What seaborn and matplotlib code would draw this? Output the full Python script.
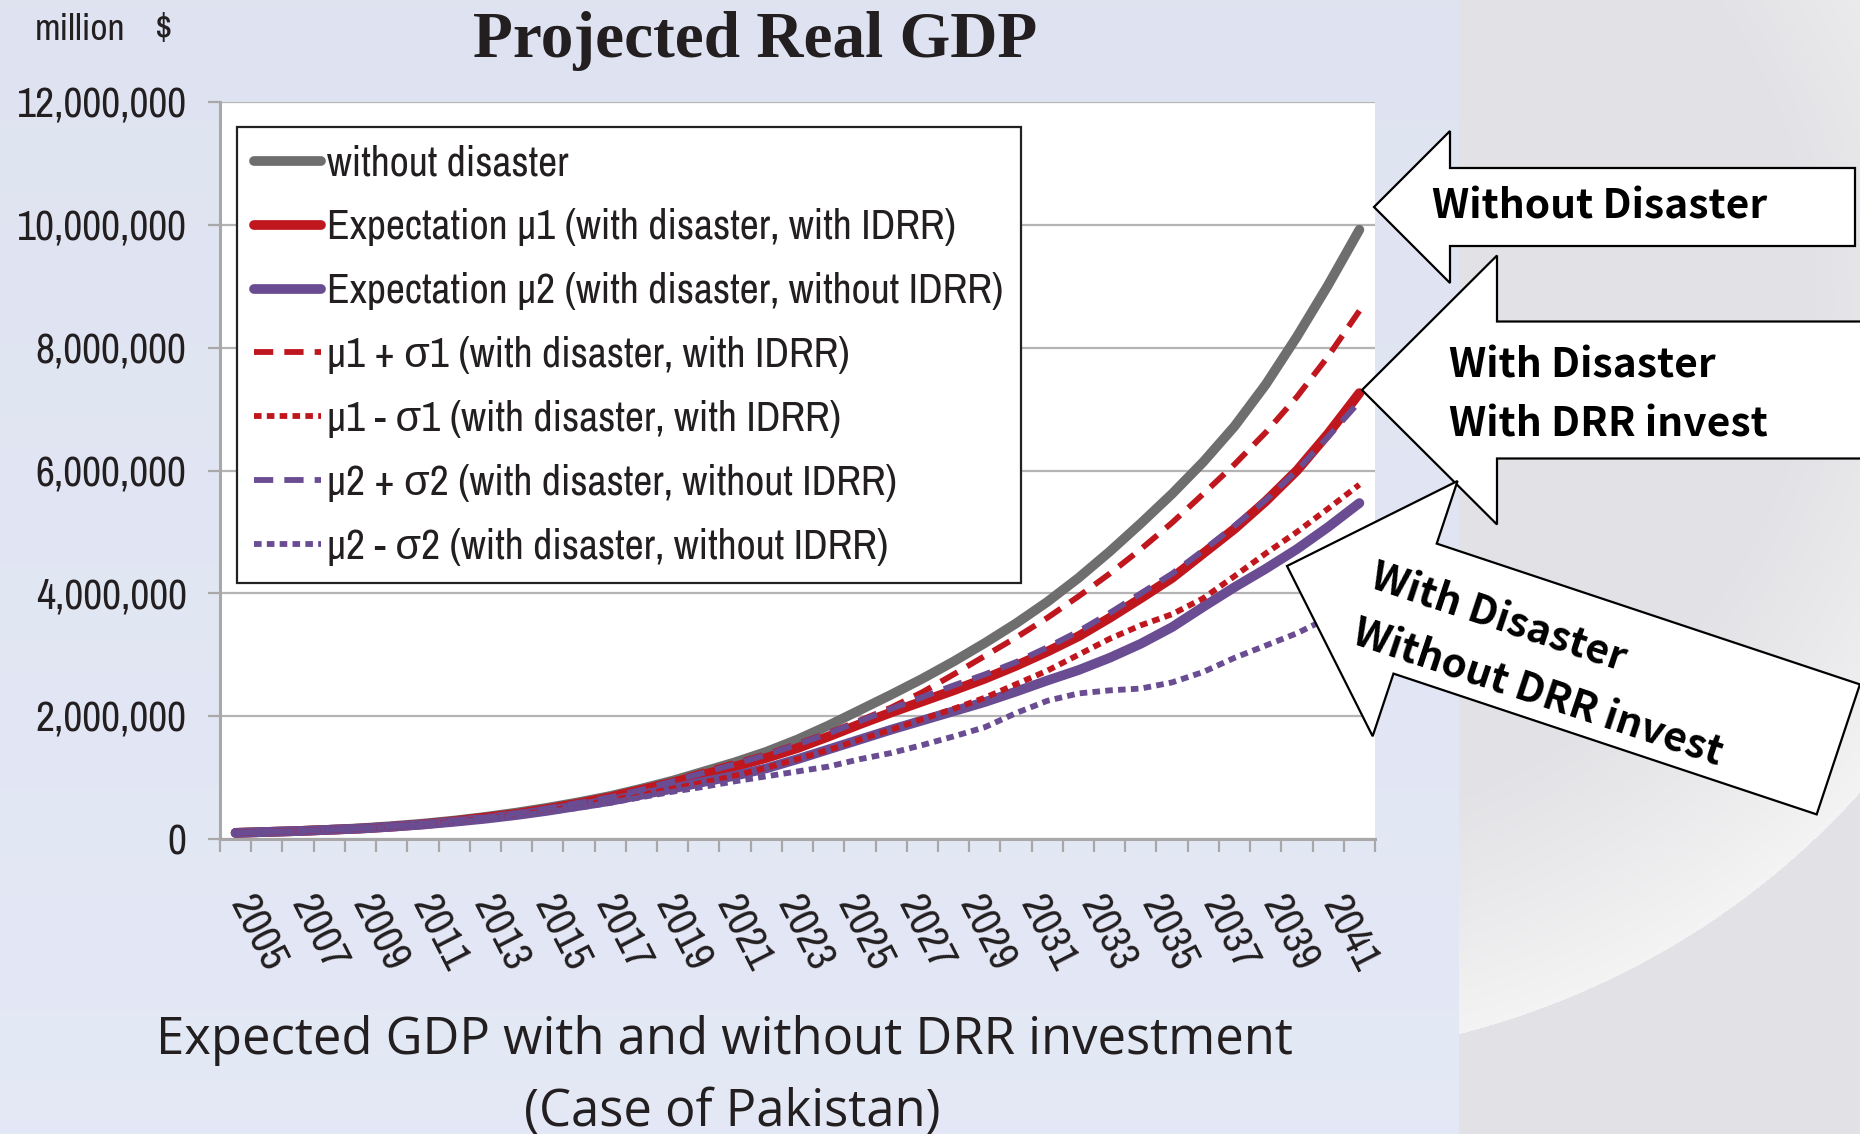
import numpy as np
import pandas as pd
import matplotlib
matplotlib.use('Agg')
import matplotlib.pyplot as plt
import matplotlib.transforms as mtransforms
from matplotlib.patches import Polygon
from matplotlib.ticker import FuncFormatter, FixedLocator
import seaborn as sns

# ---- data (GDP in units of 1,000,000 million $) ----
years = list(range(2005, 2042))
without_disaster = [0.10, 0.115, 0.13, 0.15, 0.175, 0.21, 0.25, 0.30, 0.36, 0.43, 0.51, 0.60, 0.70, 0.82, 0.95,
                    1.10, 1.25, 1.42, 1.62, 1.85, 2.10, 2.35, 2.61, 2.89, 3.19, 3.51, 3.86, 4.25, 4.68, 5.14,
                    5.62, 6.14, 6.72, 7.40, 8.18, 9.02, 9.92]
mu1 = [0.10, 0.115, 0.13, 0.15, 0.17, 0.20, 0.24, 0.29, 0.35, 0.41, 0.49, 0.58, 0.68, 0.80, 0.92,
       1.05, 1.18, 1.32, 1.48, 1.67, 1.87, 2.06, 2.24, 2.42, 2.61, 2.82, 3.05, 3.30, 3.60, 3.92,
       4.25, 4.65, 5.05, 5.50, 6.00, 6.60, 7.26]
mu2 = [0.10, 0.115, 0.13, 0.15, 0.17, 0.20, 0.235, 0.28, 0.33, 0.39, 0.46, 0.54, 0.62, 0.72, 0.82,
       0.93, 1.03, 1.15, 1.30, 1.46, 1.62, 1.78, 1.93, 2.08, 2.23, 2.40, 2.58, 2.75, 2.95, 3.18,
       3.45, 3.78, 4.10, 4.40, 4.72, 5.08, 5.47]
mu1_plus = [0.10, 0.115, 0.13, 0.15, 0.175, 0.21, 0.25, 0.30, 0.36, 0.42, 0.50, 0.59, 0.69, 0.82, 0.95,
            1.10, 1.24, 1.38, 1.55, 1.73, 1.93, 2.14, 2.39, 2.68, 2.98, 3.28, 3.60, 3.95, 4.32, 4.72,
            5.15, 5.62, 6.10, 6.62, 7.20, 7.86, 8.60]
mu1_minus = [0.10, 0.115, 0.13, 0.15, 0.17, 0.20, 0.235, 0.28, 0.33, 0.39, 0.46, 0.54, 0.63, 0.72, 0.82,
             0.92, 1.03, 1.16, 1.30, 1.45, 1.62, 1.78, 1.95, 2.12, 2.30, 2.52, 2.74, 3.00, 3.26, 3.48,
             3.66, 3.92, 4.28, 4.65, 5.00, 5.38, 5.77]
mu2_plus = [0.10, 0.115, 0.13, 0.15, 0.175, 0.21, 0.25, 0.30, 0.35, 0.42, 0.50, 0.59, 0.68, 0.80, 0.94,
            1.08, 1.22, 1.37, 1.54, 1.72, 1.92, 2.12, 2.31, 2.50, 2.68, 2.88, 3.12, 3.38, 3.68, 4.00,
            4.32, 4.70, 5.10, 5.52, 6.00, 6.55, 7.12]
mu2_minus = [0.10, 0.115, 0.13, 0.15, 0.17, 0.20, 0.23, 0.27, 0.32, 0.38, 0.44, 0.51, 0.59, 0.68, 0.77,
             0.85, 0.94, 1.02, 1.10, 1.18, 1.30, 1.40, 1.53, 1.67, 1.82, 2.05, 2.25, 2.37, 2.42, 2.45,
             2.55, 2.72, 2.95, 3.15, 3.35, 3.60, 3.90]

labels = ['without disaster',
          'Expectation μ1 (with disaster, with IDRR)',
          'Expectation μ2 (with disaster, without IDRR)',
          'μ1 + σ1 (with disaster, with IDRR)',
          'μ1 - σ1 (with disaster, with IDRR)',
          'μ2 + σ2 (with disaster, without IDRR)',
          'μ2 - σ2 (with disaster, without IDRR)']
y_ticks = [0, 2, 4, 6, 8, 10, 12]

GRAY, RED, PURPLE = '#6e6e6e', '#c0171f', '#6a4c93'
series = [
    (without_disaster, GRAY, 7.0, '-'),
    (mu1, RED, 7.0, '-'),
    (mu2, PURPLE, 7.0, '-'),
    (mu1_plus, RED, 4.2, (0, (3.3, 1.9))),
    (mu1_minus, RED, 4.2, (0, (1.3, 0.9))),
    (mu2_plus, PURPLE, 4.2, (0, (3.3, 1.9))),
    (mu2_minus, PURPLE, 4.2, (0, (1.3, 0.9))),
]

sns.set_style('white')
plt.rcParams['font.family'] = ['Archivo Narrow', 'Liberation Sans', 'DejaVu Sans']
TXT = '#231f20'

W, H = 1860, 1134
fig = plt.figure(figsize=(W / 100, H / 100), dpi=100)
px = mtransforms.Affine2D().scale(1 / W, -1 / H).translate(0, 1) + fig.transFigure

# background: lavender panel on the left, grey panel with a light swoosh on the right
yy, xx = np.mgrid[0:H, 0:W]
bg = np.zeros((H, W, 3))
bg[:] = [0.875, 0.892, 0.945]
bg += ((yy / H) * 0.02)[..., None]
r = ((xx - 1250) / 800.0) ** 2 + ((yy - 300) / 760.0) ** 2
glow = np.clip((r - 0.5) / 0.5, 0, 1) * (r < 1)
right = np.array([0.89, 0.89, 0.905])
rightcol = right + (0.955 - right) * glow[..., None]
bg = np.where((xx >= 1459)[..., None], rightcol, bg)
fig.figimage(np.clip(bg, 0, 1), 0, 0, origin='upper', zorder=-5)

ax = fig.add_axes([220 / W, 1 - 839 / H, 1155 / W, 737 / H])
ax.set_facecolor('white')

for (vals, col, lw, ls), lab in zip(series, labels):
    sns.lineplot(x=years, y=vals, ax=ax, color=col, linewidth=lw, linestyle=ls, label=lab,
                 errorbar=None, solid_capstyle='round', dash_capstyle='butt')

ax.set_xlim(2004.5, 2041.5)
ax.set_ylim(0, 12)
ax.set_yticks(y_ticks)
ax.yaxis.set_major_formatter(FuncFormatter(lambda v, p: f'{v * 1e6:,.0f}'))
ax.set_xticks(years[::2])
ax.set_xticklabels([str(y) for y in years[::2]])
ax.xaxis.set_minor_locator(FixedLocator([y - 0.5 for y in years] + [years[-1] + 0.5]))
ax.set_xlabel('')
ax.set_ylabel('')
ax.grid(False)
ax.yaxis.grid(True, color='#b4b4b4', linewidth=1.6)
ax.set_axisbelow(True)
for s in ['top', 'right']:
    ax.spines[s].set_visible(False)
for s in ['left', 'bottom']:
    ax.spines[s].set_color('#a8a8a8')
    ax.spines[s].set_linewidth(2.2)
ax.tick_params(axis='y', which='major', length=9, width=1.6, color='#a8a8a8', pad=15,
               labelsize=30, labelcolor=TXT, left=True)
ax.tick_params(axis='x', which='major', length=0, pad=68, labelsize=31, labelcolor=TXT)
ax.tick_params(axis='x', which='minor', length=9, width=1.6, color='#a8a8a8', bottom=True)
nlab = len(ax.get_xticklabels())
for k, t in enumerate(ax.get_xticklabels()):
    shift = (22 - 31 * k / (nlab - 1)) / 100
    t.set_rotation(-63)
    t.set_ha('center')
    t.set_va('center')
    t.set_rotation_mode('anchor')
    t.set_transform(t.get_transform() + mtransforms.ScaledTranslation(shift, 0, fig.dpi_scale_trans))

leg = ax.legend(loc='upper left', bbox_to_anchor=(0.0147, 0.966), borderaxespad=0,
                prop={'size': 30}, frameon=True, fancybox=False, edgecolor='#222222',
                handlelength=1.6, handletextpad=0.15, labelspacing=0.62, borderpad=0.42)
leg.get_frame().set_linewidth(1.6)
leg.get_frame().set_facecolor('white')
leg.get_frame().set_alpha(1)
for t in leg.get_texts():
    t.set_color(TXT)

# titles and captions
fig.text(755, 57, 'Projected Real GDP', transform=px, ha='center', va='baseline',
         family='Liberation Serif', weight='bold', size=47, color=TXT)
fig.text(35, 40, 'million', transform=px, ha='left', va='baseline', size=27, color=TXT)
fig.text(155, 40, '$', transform=px, ha='left', va='baseline', size=28, color=TXT)
fig.text(724, 1041, 'Expected GDP with and without DRR investment', transform=px, ha='center',
         va='center', family='Open Sans', size=36.5, color=TXT)
fig.text(732, 1112, '(Case of Pakistan)', transform=px, ha='center', va='center',
         family='Open Sans', size=36.5, color=TXT)


def block_arrow(tip, angle, head_len, head_half, shaft_half, total_len):
    pts = np.array([[0, 0], [head_len, -head_half], [head_len, -shaft_half], [total_len, -shaft_half],
                    [total_len, shaft_half], [head_len, shaft_half], [head_len, head_half]], float)
    a = np.deg2rad(angle)
    rot = np.array([[np.cos(a), -np.sin(a)], [np.sin(a), np.cos(a)]])
    pts = pts @ rot.T + np.array(tip)
    return Polygon(pts, closed=True, transform=px, facecolor='white', edgecolor='black',
                   linewidth=1.6, zorder=5, joinstyle='miter')


fig.add_artist(block_arrow((1374, 207), 0, 76, 76, 39, 481))
fig.add_artist(block_arrow((1362, 390), 0, 135, 134.5, 68.5, 560))
fig.add_artist(block_arrow((1287, 566), 18.4, 135, 134.5, 68.5, 581))

afont = dict(family=['Noto Sans CJK JP', 'DejaVu Sans'], weight='bold', size=29.3, color='black',
             transform=px, zorder=6)
fig.text(1432, 207, 'Without Disaster', ha='left', va='center', **afont)
fig.text(1449, 366, 'With Disaster', ha='left', va='center', **afont)
fig.text(1449, 425, 'With DRR invest', ha='left', va='center', **afont)
fig.text(1372, 577, 'With Disaster', ha='left', va='center', rotation=-18.4,
         rotation_mode='anchor', **afont)
fig.text(1354, 633, 'Without DRR invest', ha='left', va='center', rotation=-18.4,
         rotation_mode='anchor', **afont)

fig.savefig('out.png', dpi=100)
